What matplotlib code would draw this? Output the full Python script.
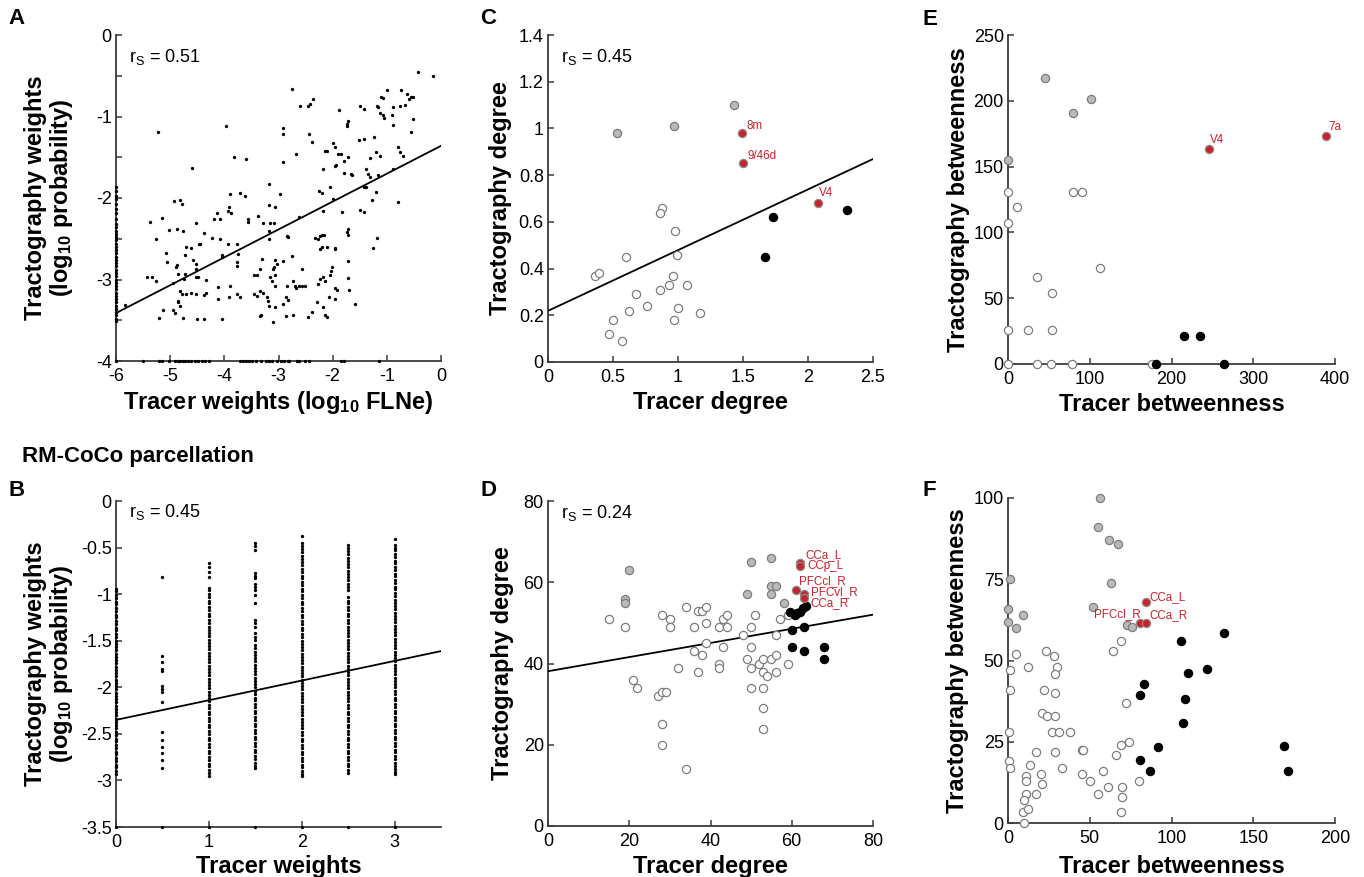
import matplotlib
matplotlib.use("Agg")
import matplotlib.pyplot as plt
import numpy as np

plt.rcParams['font.family'] = ['Liberation Sans', 'DejaVu Sans']
plt.rcParams['font.size'] = 13
plt.rcParams['axes.unicode_minus'] = False
plt.rcParams['mathtext.fontset'] = 'custom'
plt.rcParams['mathtext.rm'] = 'Liberation Sans'
plt.rcParams['mathtext.it'] = 'Liberation Sans:italic'
plt.rcParams['mathtext.bf'] = 'Liberation Sans:bold'

# ---- A: edge weights, log10 FLNe vs log10 tractography probability ----
a_pts = [
    (-0.42, -0.45), (-0.14, -0.50), (-2.76, -0.66), (-1.00, -0.68), (-0.73, -0.68), (-0.62, -0.73),
    (-0.56, -0.76), (-0.51, -0.76), (-1.10, -0.76), (-2.60, -0.87), (-2.45, -0.87), (-2.42, -0.85),
    (-2.36, -0.79), (-1.50, -0.87), (-1.42, -0.91), (-1.88, -0.92), (-1.19, -0.87), (-1.16, -0.88),
    (-1.13, -0.96), (-1.08, -0.98), (-0.91, -0.98), (-0.89, -0.88), (-0.76, -0.87), (-0.67, -0.86),
    (-0.89, -1.11), (-0.52, -1.03), (-0.56, -1.19), (-1.71, -1.05), (-1.73, -1.09), (-1.74, -1.12),
    (-3.97, -1.12), (-2.92, -1.14), (-2.92, -1.21), (-2.43, -1.21), (-2.39, -1.31), (-5.23, -1.19),
    (-1.51, -1.29), (-1.42, -1.27), (-1.24, -1.25), (-1.20, -1.44), (-1.13, -1.48), (-1.99, -1.33),
    (-1.96, -1.37), (-2.14, -1.42), (-2.11, -1.42), (-1.90, -1.46), (-1.85, -1.46), (-1.93, -1.59),
    (-2.68, -1.46), (-0.79, -1.37), (-0.76, -1.44), (-0.70, -1.48), (-1.71, -1.50), (-1.31, -1.51),
    (-3.82, -1.50), (-3.60, -1.52), (-2.92, -1.56), (-1.79, -1.55), (-1.96, -1.61), (-2.17, -1.64),
    (-0.89, -1.64), (-1.38, -1.65), (-1.34, -1.70), (-1.16, -1.72), (-1.31, -1.74), (-1.79, -1.69),
    (-1.67, -1.70), (-1.65, -1.72), (-4.59, -1.63), (-3.17, -1.83), (-1.38, -1.86), (-1.43, -1.86),
    (-2.05, -1.87), (-2.25, -1.91), (-2.20, -1.94), (-3.90, -1.95), (-3.71, -1.94), (-3.62, -1.97),
    (-2.97, -1.95), (-1.99, -2.01), (-1.20, -1.93), (-0.80, -2.05), (-4.93, -2.04), (-4.82, -2.02),
    (-4.79, -2.07), (-3.91, -2.11), (-3.93, -2.16), (-3.87, -2.19), (-3.18, -2.09), (-3.06, -2.11),
    (-1.83, -2.17), (-1.50, -2.15), (-1.42, -2.17), (-2.17, -2.16), (-1.28, -2.03), (-4.14, -2.19),
    (-4.08, -2.26), (-4.20, -2.26), (-3.56, -2.26), (-3.56, -2.30), (-3.37, -2.22), (-3.28, -2.31),
    (-3.15, -2.31), (-3.09, -2.31), (-2.62, -2.23), (-5.37, -2.30), (-5.16, -2.24), (-5.26, -2.50),
    (-5.02, -2.39), (-4.88, -2.38), (-4.76, -2.40), (-4.53, -2.31), (-4.38, -2.43), (-4.45, -2.57),
    (-4.47, -2.57), (-4.23, -2.49), (-4.08, -2.50), (-4.70, -2.60), (-4.62, -2.61), (-3.94, -2.56),
    (-3.76, -2.56), (-3.17, -2.40), (-3.18, -2.50), (-2.85, -2.47), (-2.82, -2.48), (-2.33, -2.49),
    (-2.28, -2.50), (-2.16, -2.46), (-2.20, -2.46), (-2.24, -2.63), (-1.96, -2.61), (-1.96, -2.63),
    (-1.71, -2.38), (-1.71, -2.46), (-1.74, -2.42), (-1.26, -2.61), (-1.18, -2.49), (-5.08, -2.67),
    (-5.06, -2.79), (-4.90, -2.85), (-4.87, -2.82), (-4.85, -2.93), (-4.73, -2.70), (-4.58, -2.76),
    (-4.53, -2.81), (-4.53, -2.87), (-4.53, -2.97), (-4.05, -2.70), (-4.05, -2.73), (-3.75, -2.69),
    (-3.77, -2.79), (-3.76, -2.83), (-3.31, -2.75), (-3.34, -2.87), (-3.06, -2.76), (-3.03, -2.81),
    (-3.08, -2.85), (-3.11, -2.87), (-2.91, -2.77), (-2.76, -2.71), (-5.34, -2.97), (-5.26, -3.02),
    (-4.95, -3.04), (-4.73, -2.93), (-4.74, -2.99), (-4.48, -2.97), (-4.34, -3.01), (-4.11, -3.09),
    (-3.89, -3.08), (-3.46, -2.95), (-3.40, -2.95), (-3.07, -2.95), (-3.15, -2.97), (-3.12, -3.02),
    (-3.06, -3.08), (-2.85, -3.08), (-2.74, -3.02), (-2.70, -3.08), (-2.68, -3.10), (-2.63, -3.08),
    (-2.57, -3.08), (-2.51, -3.08), (-2.56, -2.87), (-2.28, -3.06), (-2.23, -2.99), (-2.14, -3.02),
    (-2.17, -2.97), (-2.03, -2.89), (-2.02, -2.85), (-2.05, -2.95), (-1.96, -3.10), (-1.92, -3.13),
    (-1.71, -2.98), (-1.69, -3.13), (-1.71, -2.77), (-4.82, -3.14), (-4.79, -3.18), (-4.70, -3.18),
    (-4.62, -3.16), (-4.53, -3.18), (-4.38, -3.19), (-4.33, -3.16), (-4.11, -3.24), (-3.91, -3.22),
    (-3.76, -3.18), (-3.72, -3.21), (-3.45, -3.18), (-3.40, -3.20), (-3.34, -3.14), (-3.28, -3.16),
    (-3.22, -3.22), (-3.20, -3.26), (-3.18, -3.32), (-3.07, -3.34), (-2.86, -3.22), (-2.82, -3.25),
    (-2.91, -3.30), (-2.73, -3.43), (-2.87, -3.45), (-2.29, -3.27), (-2.46, -3.46), (-2.38, -3.40),
    (-2.17, -3.34), (-2.14, -3.44), (-2.11, -3.46), (-2.06, -3.21), (-1.96, -3.24), (-1.58, -3.30),
    (-5.20, -3.47), (-5.13, -3.38), (-4.94, -3.38), (-4.91, -3.41), (-4.77, -3.47), (-4.51, -3.49),
    (-4.38, -3.49), (-4.05, -3.49), (-4.85, -3.26), (-4.85, -3.28), (-4.82, -3.32), (-3.34, -3.45),
    (-3.33, -3.43), (-3.10, -3.52), (-5.83, -3.31), (-5.43, -2.97), (-1.07, -0.77), (-0.60, -0.78),
    (-1.05, -1.02), (-2.24, -2.47), (-2.20, -2.60), (-2.10, -2.60),
]
# tracer weight at the floor (log10 FLNe = -6)
a_floor_tract = [-1.87, -1.92, -1.97, -2.01, -2.07, -2.13, -2.19, -2.26, -2.32, -2.36, -2.40, -2.44,
                 -2.48, -2.52, -2.56, -2.60, -2.64, -2.68, -2.72, -2.76, -2.80, -2.84, -2.88, -2.92,
                 -2.96, -3.00, -3.04, -3.08, -3.12, -3.16, -3.20, -3.24, -3.28, -3.32, -3.36, -3.40,
                 -3.44, -3.48, -3.51, -4.00]
# tractography weight at the floor (log10 probability = -4)
a_floor_tracer = [-5.51, -5.21, -5.16, -5.02, -4.92, -4.86, -4.81, -4.77, -4.72, -4.67, -4.62, -4.55,
                  -4.49, -4.42, -4.35, -4.28, -3.72, -3.66, -3.60, -3.54, -3.49, -3.42, -3.32, -3.24,
                  -3.18, -3.12, -3.02, -2.95, -2.89, -2.83, -2.80, -2.66, -2.62, -2.52, -2.43, -1.85,
                  -1.79, -1.14]
a_fit = (-1.36, 0.342)   # intercept, slope

# ---- B: RM-CoCo, categorical tracer weights ----
b_levels = [0, 0.5, 1, 1.5, 2, 2.5, 3]
b_col_0 = [-0.94, -0.97, -1.01, -1.04, -1.08, -1.11, -1.15, -1.18, -1.22, -1.25, -1.29, -1.32, -1.36,
           -1.39, -1.43, -1.46, -1.50, -1.53, -1.57, -1.60, -1.64, -1.67, -1.71, -1.74, -1.78, -1.81,
           -1.85, -1.88, -1.92, -1.95, -1.99, -2.02, -2.06, -2.09, -2.13, -2.16, -2.20, -2.23, -2.27,
           -2.30, -2.34, -2.37, -2.41, -2.44, -2.48, -2.51, -2.55, -2.58, -2.62, -2.65, -2.69, -2.72,
           -2.76, -2.79, -2.83, -2.86, -2.90, -2.93, -3.5]
b_col_05 = [-0.82, -1.66, -1.73, -1.80, -1.83, -1.99, -2.02, -2.05, -2.16, -2.48, -2.57, -2.64, -2.71,
            -2.78, -2.87, -3.5]
b_col_1 = [-0.67, -0.71, -0.76, -0.82, -0.93, -0.96, -1.00, -1.03, -1.07, -1.10, -1.14, -1.17, -1.21,
           -1.24, -1.28, -1.31, -1.35, -1.38, -1.42, -1.45, -1.49, -1.52, -1.56, -1.59, -1.63, -1.66,
           -1.70, -1.73, -1.77, -1.80, -1.84, -1.87, -1.91, -1.94, -1.98, -2.01, -2.05, -2.08, -2.12,
           -2.15, -2.19, -2.22, -2.26, -2.29, -2.33, -2.36, -2.40, -2.43, -2.47, -2.50, -2.54, -2.57,
           -2.61, -2.64, -2.68, -2.71, -2.75, -2.78, -2.82, -2.85, -2.89, -2.92, -2.95, -3.5]
b_col_15 = [-0.45, -0.48, -0.53, -0.77, -0.80, -0.83, -0.89, -0.92, -0.96, -1.01, -1.10, -1.28, -1.31,
            -1.35, -1.42, -1.46, -1.49, -1.55, -1.58, -1.62, -1.65, -1.69, -1.72, -1.76, -1.79, -1.83,
            -1.86, -1.90, -1.93, -1.97, -2.00, -2.04, -2.07, -2.11, -2.14, -2.18, -2.21, -2.25, -2.28,
            -2.32, -2.35, -2.39, -2.42, -2.46, -2.49, -2.53, -2.56, -2.60, -2.63, -2.67, -2.70, -2.74,
            -2.77, -2.81, -2.84, -2.87, -3.5]
b_col_2 = [-0.38, -0.45, -0.48, -0.52, -0.55, -0.59, -0.62, -0.66, -0.69, -0.73, -0.76, -0.80, -0.83,
           -0.87, -0.90, -0.94, -0.97, -1.01, -1.04, -1.08, -1.11, -1.15, -1.18, -1.22, -1.25, -1.29,
           -1.32, -1.36, -1.39, -1.43, -1.46, -1.50, -1.53, -1.57, -1.60, -1.64, -1.67, -1.71, -1.74,
           -1.78, -1.81, -1.85, -1.88, -1.92, -1.95, -1.99, -2.02, -2.06, -2.09, -2.13, -2.16, -2.20,
           -2.23, -2.27, -2.30, -2.34, -2.37, -2.41, -2.44, -2.48, -2.51, -2.55, -2.58, -2.62, -2.65,
           -2.69, -2.72, -2.76, -2.79, -2.83, -2.86, -2.90, -2.93, -2.95, -3.5]
b_col_25 = [-0.47, -0.50, -0.54, -0.57, -0.61, -0.64, -0.68, -0.71, -0.75, -0.78, -0.82, -0.85, -0.89,
            -0.92, -0.96, -1.03, -1.07, -1.10, -1.14, -1.17, -1.21, -1.24, -1.28, -1.31, -1.35, -1.38,
            -1.42, -1.45, -1.49, -1.52, -1.56, -1.59, -1.63, -1.66, -1.70, -1.73, -1.77, -1.80, -1.84,
            -1.87, -1.91, -1.94, -1.98, -2.01, -2.05, -2.08, -2.12, -2.15, -2.19, -2.22, -2.26, -2.29,
            -2.33, -2.36, -2.40, -2.43, -2.47, -2.50, -2.54, -2.57, -2.61, -2.64, -2.68, -2.71, -2.75,
            -2.78, -2.82, -2.85, -2.89, -2.92, -3.5]
b_col_3 = [-0.41, -0.47, -0.50, -0.53, -0.57, -0.60, -0.64, -0.67, -0.71, -0.74, -0.78, -0.81, -0.85,
           -0.88, -0.92, -0.95, -0.99, -1.02, -1.06, -1.09, -1.13, -1.16, -1.20, -1.23, -1.27, -1.30,
           -1.34, -1.37, -1.41, -1.44, -1.48, -1.51, -1.55, -1.58, -1.62, -1.65, -1.69, -1.72, -1.76,
           -1.79, -1.83, -1.86, -1.90, -1.93, -1.97, -2.00, -2.04, -2.07, -2.11, -2.14, -2.18, -2.21,
           -2.25, -2.28, -2.32, -2.35, -2.39, -2.42, -2.46, -2.49, -2.53, -2.56, -2.60, -2.63, -2.67,
           -2.70, -2.74, -2.77, -2.81, -2.84, -2.88, -2.91, -2.93, -3.5]
b_fit = (-2.35, 0.211)

# ---- C: node degree ----
c_open_x = [0.88, 0.86, 0.98, 0.60, 0.99, 0.36, 0.39, 0.96, 0.93, 1.07, 0.86, 0.68, 0.76, 0.62, 1.00,
            1.17, 0.50, 0.97, 0.47, 0.57]
c_open_y = [0.66, 0.64, 0.56, 0.45, 0.46, 0.37, 0.38, 0.37, 0.33, 0.33, 0.31, 0.29, 0.24, 0.22, 0.23,
            0.21, 0.18, 0.18, 0.12, 0.09]
c_gray_x = [0.53, 0.97, 1.43]
c_gray_y = [0.98, 1.01, 1.10]
c_black_x = [1.73, 1.67, 2.30]
c_black_y = [0.62, 0.45, 0.65]
c_red_names = ['8m', '9/46d', 'V4']
c_red_x = [1.49, 1.50, 2.08]
c_red_y = [0.98, 0.85, 0.68]
c_fit = (0.219, 0.260)

# ---- D: node degree, RM-CoCo ----
d_open = [(15, 51), (19, 49), (21, 36), (22, 34), (27, 32), (28, 33), (29, 33), (28, 25), (28, 20),
          (28, 52), (30, 51), (30, 49), (32, 39), (34, 54), (34, 14), (36, 49), (36, 43), (37, 38),
          (37, 53), (38, 53), (39, 54), (38, 42), (39, 50), (39, 45), (42, 49), (42, 40), (42, 39),
          (43, 51), (44, 52), (44, 49), (43, 44), (48, 47), (49, 41), (50, 49), (50, 44), (50, 39),
          (50, 34), (51, 52), (52, 40), (53, 41), (53, 38), (53, 34), (53, 29), (53, 24), (54, 37),
          (55, 41), (56, 42), (56, 38), (56, 47), (57, 51), (59, 52), (59, 40)]
d_gray_x = [20, 19, 19, 50, 55, 49, 55, 56, 55, 58]
d_gray_y = [63, 56, 55, 65, 66, 57, 59, 59, 57, 55]
d_black_x = [59.6, 60.8, 62.0, 62.8, 63.5, 61.4, 60, 63, 60, 63, 68, 68]
d_black_y = [52.8, 51.9, 52.8, 53.6, 54.2, 52.4, 48.2, 48.9, 44, 43.2, 44, 41.1]
d_red_names = ['CCa_L', 'CCp_L', 'PFCcl_R', 'PFCvl_R', 'CCa_R']
d_red_x = [62, 62, 61, 63, 63]
d_red_y = [64.8, 64.0, 58.2, 57.2, 56.2]
d_fit = (38.1, 0.174)

# ---- E: betweenness ----
e_open_x = [0, 11, 0, 36, 54, 79, 90, 112, 0, 25, 54, 0, 36, 52, 78, 176]
e_open_y = [131, 119, 107, 66, 54, 131, 131, 73, 26, 26, 26, 0, 0, 0, 0, 0]
e_gray_x = [45, 80, 102, 0]
e_gray_y = [217, 191, 201, 155]
e_black_x = [215, 235, 181, 264]
e_black_y = [21, 21, 0, 0]
e_red_names = ['V4', '7a']
e_red_x = [246, 389]
e_red_y = [163, 173]

# ---- F: betweenness, RM-CoCo ----
f_open_x = [1, 5, 12, 1, 0.5, 0.5, 1, 23, 28, 30, 29, 22, 29, 21, 24, 29, 27, 31, 38, 29, 17, 13.5,
            20, 21, 11, 11, 11, 17, 10, 9, 12, 10, 33, 45, 46, 45, 50, 55, 58, 61, 66, 69, 74, 72,
            64, 69, 70, 70, 69, 80]
f_open_y = [47, 52, 48, 41, 28, 19, 17, 53, 51.5, 48, 46, 41, 40, 34, 33, 33, 28, 28, 28, 22, 22, 18,
            15, 12, 14.5, 13, 9, 9, 7, 3.5, 4.3, 0, 17, 22.5, 22.5, 15, 13, 9, 16, 11, 21, 24, 25, 37,
            53, 56, 11, 8, 3.4, 13]
f_gray_x = [56, 55, 62, 67, 63, 1, 0, 9, 0, 5, 52, 73, 76]
f_gray_y = [100, 91, 87, 86, 74, 75, 66, 64, 62, 60, 66.5, 61, 60.3]
f_black_x = [106, 132, 122, 110, 83, 81, 108, 107, 92, 81, 87, 169, 171]
f_black_y = [56, 58.6, 47.5, 46.3, 42.8, 39.4, 38.3, 30.9, 23.5, 19.4, 15.9, 23.7, 16.1]
f_red_names = ['CCa_L', 'PFCcl_R', 'CCa_R']
f_red_x = [84.7, 80.6, 84.7]
f_red_y = [68, 61.4, 61.5]

# label placement (pixel offsets from the point, horizontal alignment)
c_lab = [(5, 7, 'left'), (5, 7, 'left'), (1, 10, 'left')]
d_lab = [(6, 8, 'left'), (7, 0, 'left'), (3, 8, 'left'), (7, 2, 'left'), (6, -5, 'left')]
e_lab = [(1, 9, 'left'), (2, 9, 'left')]
f_lab = [(3, 5, 'left'), (1, 9, 'right'), (3, 8, 'left')]

SPINE = '#3a3a3a'
RED = '#c8232b'
OPEN_EDGE = '#7d7d7d'
GRAY_FACE = '#b9b9b9'


def style_axes(ax, xlim, ylim, xticks, yticks, xlabel, ylabel, xlab_y, ylab_x):
    for s in ['top', 'right']:
        ax.spines[s].set_visible(False)
    for s in ['left', 'bottom']:
        ax.spines[s].set_color(SPINE)
        ax.spines[s].set_linewidth(1.3)
    ax.set_xlim(*xlim)
    ax.set_ylim(*ylim)
    ax.set_xticks(xticks)
    ax.set_yticks(yticks)
    ax.tick_params(direction='in', length=4, width=1.1, color=SPINE, labelsize=13)
    ax.tick_params(axis='x', pad=5)
    ax.tick_params(axis='y', pad=3)
    ax.set_xlabel(xlabel, fontsize=17, fontweight='bold')
    ax.set_ylabel(ylabel, fontsize=17, fontweight='bold', linespacing=1.05)
    ax.xaxis.set_label_coords(0.5, xlab_y)
    ax.yaxis.set_label_coords(ylab_x, 0.5)


def dots(ax, x, y):
    ax.plot(x, y, ls='none', marker='o', ms=2.4, mfc='black', mec='black', mew=0,
            clip_on=False, zorder=4)


def circles(ax, x, y, kind):
    kw = dict(ls='none', marker='o', ms=5.9, mew=0.9, clip_on=False, zorder=4)
    if kind == 'open':
        kw.update(mfc='white', mec=OPEN_EDGE)
    elif kind == 'gray':
        kw.update(mfc=GRAY_FACE, mec=OPEN_EDGE)
    elif kind == 'black':
        kw.update(mfc='black', mec='black')
    else:
        kw.update(mfc=RED, mec='#8c8c8c')
    ax.plot(x, y, **kw)


def fit_line(ax, fit, x0, x1):
    xs = np.array([x0, x1])
    ax.plot(xs, fit[0] + fit[1] * xs, color='black', lw=1.3, zorder=3)


def red_labels(ax, names, xs, ys, offsets):
    for name, x, y, (dx, dy, ha) in zip(names, xs, ys, offsets):
        ax.annotate(name, (x, y), xytext=(dx, dy), textcoords='offset pixels',
                    color=RED, fontsize=8.4, ha=ha, va='center', zorder=5)


def rs_text(ax, val, ypos):
    ax.text(0.04, ypos, r'r$_\mathrm{S}$ = ' + val, transform=ax.transAxes,
            fontsize=13, va='center', ha='left')


fig = plt.figure(figsize=(13.64, 8.77), dpi=100)
W, H = 1364, 877


def rect(l, t, r, b):
    return [l / W, 1 - b / H, (r - l) / W, (b - t) / H]


axA = fig.add_axes(rect(116, 35, 441, 361))
axB = fig.add_axes(rect(116, 501, 441, 827))
axC = fig.add_axes(rect(548, 35, 873, 362))
axD = fig.add_axes(rect(548, 501, 873, 826))
axE = fig.add_axes(rect(1008, 35, 1335, 364))
axF = fig.add_axes(rect(1008, 498, 1335, 823))

# A
ax = axA
a_x = [p[0] for p in a_pts]
a_y = [p[1] for p in a_pts]
dots(ax, a_x, a_y)
dots(ax, [-6] * len(a_floor_tract), a_floor_tract)
dots(ax, a_floor_tracer, [-4] * len(a_floor_tracer))
fit_line(ax, a_fit, -6, 0)
style_axes(ax, (-6, 0), (-4, 0), range(-6, 1), range(-4, 1),
           r'Tracer weights (log$_{\mathbf{10}}$ FLNe)',
           'Tractography weights\n' + r'(log$_{\mathbf{10}}$ probability)', -0.085, -0.125)
ax.set_yticks(np.arange(-3.5, 0, 1.0), minor=True)
ax.tick_params(which='minor', direction='in', length=4, width=1.1, color=SPINE)
rs_text(ax, '0.51', 0.933)

# B
ax = axB
for lvl, col in zip(b_levels, [b_col_0, b_col_05, b_col_1, b_col_15, b_col_2, b_col_25, b_col_3]):
    dots(ax, [lvl] * len(col), col)
fit_line(ax, b_fit, 0, 3.5)
style_axes(ax, (0, 3.5), (-3.5, 0), [0, 1, 2, 3], np.arange(-3.5, 0.01, 0.5),
           'Tracer weights',
           'Tractography weights\n' + r'(log$_{\mathbf{10}}$ probability)', -0.085, -0.125)
ax.set_yticklabels(['-3.5', '-3', '-2.5', '-2', '-1.5', '-1', '-0.5', '0'])
rs_text(ax, '0.45', 0.965)

# C
ax = axC
circles(ax, c_open_x, c_open_y, 'open')
fit_line(ax, c_fit, 0, 2.5)
circles(ax, c_gray_x, c_gray_y, 'gray')
circles(ax, c_black_x, c_black_y, 'black')
circles(ax, c_red_x, c_red_y, 'red')
red_labels(ax, c_red_names, c_red_x, c_red_y, c_lab)
style_axes(ax, (0, 2.5), (0, 1.4), np.arange(0, 2.51, 0.5), np.arange(0, 1.41, 0.2),
           'Tracer degree', 'Tractography degree', -0.09, -0.11)
ax.set_xticklabels(['0', '0.5', '1', '1.5', '2', '2.5'])
ax.set_yticklabels(['0', '0.2', '0.4', '0.6', '0.8', '1', '1.2', '1.4'])
rs_text(ax, '0.45', 0.933)

# D
ax = axD
circles(ax, [p[0] for p in d_open], [p[1] for p in d_open], 'open')
fit_line(ax, d_fit, 0, 80)
circles(ax, d_gray_x, d_gray_y, 'gray')
circles(ax, d_black_x, d_black_y, 'black')
circles(ax, d_red_x, d_red_y, 'red')
red_labels(ax, d_red_names, d_red_x, d_red_y, d_lab)
style_axes(ax, (0, 80), (0, 80), range(0, 81, 20), range(0, 81, 20),
           'Tracer degree', 'Tractography degree', -0.09, -0.105)
rs_text(ax, '0.24', 0.963)

# E
ax = axE
circles(ax, e_open_x, e_open_y, 'open')
circles(ax, e_gray_x, e_gray_y, 'gray')
circles(ax, e_black_x, e_black_y, 'black')
circles(ax, e_red_x, e_red_y, 'red')
red_labels(ax, e_red_names, e_red_x, e_red_y, e_lab)
style_axes(ax, (0, 400), (0, 250), range(0, 401, 100), range(0, 251, 50),
           'Tracer betweenness', 'Tractography betweenness', -0.088, -0.115)

# F
ax = axF
circles(ax, f_open_x, f_open_y, 'open')
circles(ax, f_gray_x, f_gray_y, 'gray')
circles(ax, f_black_x, f_black_y, 'black')
circles(ax, f_red_x, f_red_y, 'red')
red_labels(ax, f_red_names, f_red_x, f_red_y, f_lab)
style_axes(ax, (0, 200), (0, 100), range(0, 201, 50), range(0, 101, 25),
           'Tracer betweenness', 'Tractography betweenness', -0.098, -0.12)

# panel letters and section heading
for letter, (px, py) in {'A': (8, 8), 'B': (8, 480), 'C': (480, 8),
                         'D': (480, 480), 'E': (923, 9), 'F': (923, 480)}.items():
    fig.text(px / W, 1 - py / H, letter, fontsize=16, fontweight='bold', ha='left', va='top')
fig.text(22 / W, 1 - 446 / H, 'RM-CoCo parcellation', fontsize=16, fontweight='bold',
         ha='left', va='top')

fig.savefig('out.png', dpi=100, facecolor='white')
